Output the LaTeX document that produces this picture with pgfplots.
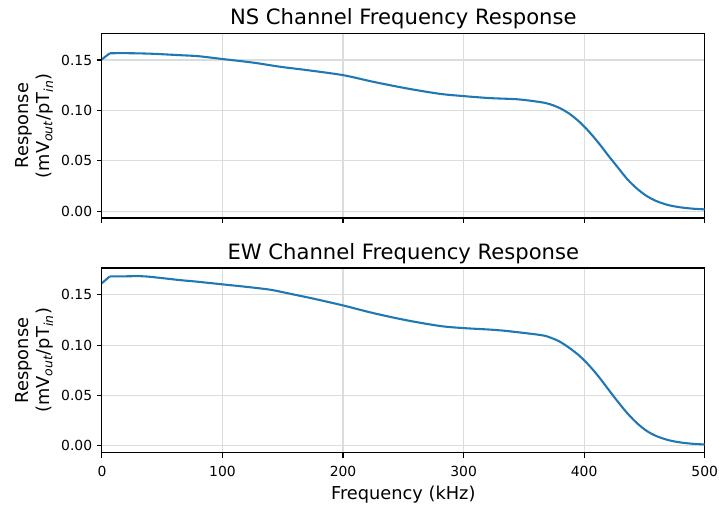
\documentclass[border=0pt]{standalone}
\usepackage{fontspec}
\setmainfont{DejaVu Sans}
\usepackage{pgfplots}
\pgfplotsset{compat=1.18}
\definecolor{mplblue}{HTML}{1F77B4}
\definecolor{gridgray}{HTML}{DCDCDC}
\pgfplotsset{
  resp/.style={
    scale only axis,
    width=434pt, height=133pt,
    xmin=0, xmax=500,
    ymin=-0.0068, ymax=0.1765,
    xtick={0,100,200,300,400,500},
    ytick={0,0.05,0.10,0.15},
    yticklabel style={/pgf/number format/.cd,fixed,fixed zerofill,precision=2},
    xticklabel style={yshift=-2.5pt},
    /pgf/number format/assume math mode=true,
    tick align=outside,
    major tick length=3.5pt,
    tick style={black, line width=0.8pt},
    xtick pos=bottom, ytick pos=left,
    grid=major,
    major grid style={gridgray, line width=0.8pt},
    axis line style={black, line width=0.8pt},
    tick label style={font=\fontsize{10pt}{12pt}\selectfont},
    label style={font=\fontsize{12.8pt}{15pt}\selectfont},
    title style={font=\fontsize{15.2pt}{18pt}\selectfont, yshift=-6.5pt},
    ylabel={Response\\(mV\textsubscript{\textit{out}}/pT\textsubscript{\textit{in}})},
    ylabel style={align=center, yshift=-1pt},
    xlabel style={yshift=0pt},
  }
}
\begin{document}
\begin{tikzpicture}
\path[use as bounding box] (-73.4pt,-37.1pt) rectangle (444.3pt,326pt);
\begin{axis}[resp, at={(0,169pt)}, anchor=south west,
  title={NS Channel Frequency Response}, xticklabels={}]
\addplot[mplblue, line width=1.5pt] coordinates {(0,0.1507) (6.5,0.1567)};
\addplot[mplblue, line width=1.5pt, smooth, tension=0.5] coordinates {
(6.5,0.1567) (20,0.1568) (40,0.1563) (65,0.1548) (80,0.1538)
(100,0.1510) (125,0.1475) (148,0.1433) (170,0.1400) (200,0.1350)
(225,0.1284) (253,0.1218) (280,0.1165) (300,0.1142) (322,0.1122)
(345,0.1110) (364,0.1082) (372,0.1060) (380,0.1022) (388,0.0965)
(396,0.0887) (404,0.0790) (412,0.0677) (420,0.0553) (428,0.0433)
(436,0.0315) (444,0.0222) (452,0.0150) (460,0.0100) (470,0.0060)
(480,0.0038) (490,0.0025) (500,0.0018)
};
\end{axis}
\begin{axis}[resp, at={(0,0)}, anchor=south west,
  title={EW Channel Frequency Response}, xlabel={Frequency (kHz)}]
\addplot[mplblue, line width=1.5pt] coordinates {(0,0.1615) (6.5,0.1682)};
\addplot[mplblue, line width=1.5pt, smooth, tension=0.5] coordinates {
(6.5,0.1682) (20,0.1683) (36,0.1682) (65,0.1645) (77,0.1632)
(100,0.1603) (120,0.1578) (139.5,0.1550) (156,0.1510) (175.5,0.1461)
(200,0.1394) (225,0.1318) (253,0.1246) (281,0.1189) (300,0.1169)
(322,0.1154) (336,0.1140) (364,0.1100) (372,0.1075) (380,0.1033)
(388,0.0970) (396,0.0895) (404,0.0800) (412,0.0688) (420,0.0562)
(428,0.0438) (436,0.0322) (444,0.0224) (452,0.0148) (460,0.0097)
(470,0.0057) (480,0.0034) (490,0.0021) (500,0.0014)
};
\end{axis}
\end{tikzpicture}
\end{document}
